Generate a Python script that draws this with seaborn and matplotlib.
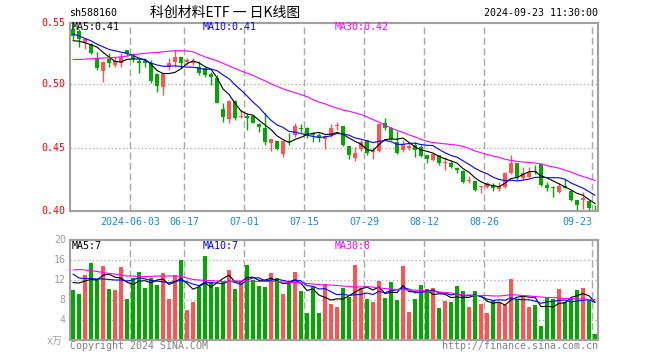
import numpy as np
import pandas as pd
import matplotlib
matplotlib.use("Agg")
import matplotlib.pyplot as plt
import seaborn as sns

# daily candles, 2024-05-20 .. 2024-09-23 (index 0..87)
opens = [0.5430, 0.5419, 0.5333, 0.5315, 0.5208, 0.5106, 0.5195, 0.5151, 0.5169, 0.5268,
         0.5234, 0.5184, 0.5184, 0.5164, 0.5078, 0.4981, 0.5138, 0.5177, 0.5216, 0.5177,
         0.5164, 0.5138, 0.5132, 0.5078, 0.5047, 0.4805, 0.4727, 0.4870, 0.4745, 0.4755,
         0.4755, 0.4690, 0.4656, 0.4539, 0.4557, 0.4455, 0.4560, 0.4604, 0.4658, 0.4661,
         0.4622, 0.4604, 0.4570, 0.4604, 0.4672, 0.4674, 0.4518, 0.4422, 0.4492, 0.4565,
         0.4474, 0.4481, 0.4700, 0.4656, 0.4552, 0.4487, 0.4500, 0.4526, 0.4508, 0.4448,
         0.4409, 0.4448, 0.4383, 0.4388, 0.4348, 0.4323, 0.4243, 0.4245, 0.4198, 0.4200,
         0.4213, 0.4180, 0.4200, 0.4305, 0.4388, 0.4266, 0.4278, 0.4319, 0.4375, 0.4213,
         0.4194, 0.4161, 0.4205, 0.4166, 0.4096, 0.4096, 0.4088, 0.4040]
highs = [0.5480, 0.5430, 0.5352, 0.5320, 0.5255, 0.5180, 0.5242, 0.5216, 0.5242, 0.5268,
         0.5242, 0.5203, 0.5195, 0.5190, 0.5086, 0.5086, 0.5203, 0.5268, 0.5216, 0.5203,
         0.5203, 0.5184, 0.5138, 0.5100, 0.5073, 0.4852, 0.4877, 0.4877, 0.4799, 0.4773,
         0.4760, 0.4700, 0.4773, 0.4573, 0.4560, 0.4565, 0.4622, 0.4700, 0.4690, 0.4669,
         0.4630, 0.4617, 0.4604, 0.4690, 0.4708, 0.4674, 0.4518, 0.4508, 0.4565, 0.4565,
         0.4508, 0.4700, 0.4734, 0.4669, 0.4638, 0.4565, 0.4552, 0.4552, 0.4526, 0.4448,
         0.4466, 0.4448, 0.4434, 0.4409, 0.4356, 0.4330, 0.4284, 0.4245, 0.4205, 0.4239,
         0.4231, 0.4239, 0.4317, 0.4448, 0.4388, 0.4352, 0.4352, 0.4370, 0.4388, 0.4239,
         0.4205, 0.4227, 0.4260, 0.4169, 0.4096, 0.4161, 0.4096, 0.4057]
lows = [0.5350, 0.5289, 0.5273, 0.5235, 0.5112, 0.5020, 0.5138, 0.5138, 0.5138, 0.5221,
        0.5177, 0.5086, 0.5138, 0.5008, 0.4942, 0.4916, 0.5112, 0.5138, 0.5125, 0.5151,
        0.5151, 0.5073, 0.5060, 0.4995, 0.4852, 0.4708, 0.4695, 0.4721, 0.4740, 0.4643,
        0.4695, 0.4630, 0.4526, 0.4481, 0.4487, 0.4434, 0.4526, 0.4591, 0.4630, 0.4578,
        0.4552, 0.4552, 0.4492, 0.4591, 0.4643, 0.4520, 0.4417, 0.4403, 0.4481, 0.4448,
        0.4414, 0.4474, 0.4643, 0.4565, 0.4455, 0.4474, 0.4487, 0.4434, 0.4434, 0.4383,
        0.4403, 0.4370, 0.4330, 0.4344, 0.4309, 0.4231, 0.4227, 0.4166, 0.4153, 0.4188,
        0.4169, 0.4169, 0.4188, 0.4299, 0.4253, 0.4253, 0.4266, 0.4299, 0.4208, 0.4166,
        0.4117, 0.4153, 0.4188, 0.4091, 0.4013, 0.4023, 0.4013, 0.4018]
closes = [0.5380, 0.5354, 0.5352, 0.5242, 0.5130, 0.5177, 0.5169, 0.5182, 0.5216, 0.5234,
          0.5195, 0.5164, 0.5170, 0.5026, 0.4987, 0.5078, 0.5164, 0.5216, 0.5164, 0.5190,
          0.5184, 0.5086, 0.5073, 0.5060, 0.4856, 0.4747, 0.4870, 0.4734, 0.4752, 0.4740,
          0.4700, 0.4670, 0.4552, 0.4573, 0.4492, 0.4557, 0.4552, 0.4674, 0.4654, 0.4604,
          0.4604, 0.4586, 0.4596, 0.4661, 0.4676, 0.4526, 0.4448, 0.4461, 0.4552, 0.4466,
          0.4479, 0.4690, 0.4656, 0.4570, 0.4461, 0.4526, 0.4518, 0.4487, 0.4440, 0.4414,
          0.4455, 0.4388, 0.4395, 0.4356, 0.4330, 0.4239, 0.4247, 0.4174, 0.4202, 0.4231,
          0.4188, 0.4205, 0.4309, 0.4388, 0.4266, 0.4309, 0.4317, 0.4315, 0.4213, 0.4192,
          0.4190, 0.4205, 0.4192, 0.4096, 0.4057, 0.4114, 0.4036, 0.4038]
# volume in 万
volumes = [10.0, 9.2, 13.0, 15.5, 12.3, 14.8, 10.2, 10.0, 14.6, 8.2,
           12.5, 13.6, 10.4, 12.5, 11.0, 13.4, 8.2, 13.0, 16.0, 6.0,
           7.6, 10.7, 16.8, 11.7, 10.6, 11.7, 14.0, 10.2, 11.6, 15.0,
           12.0, 10.8, 10.6, 13.4, 12.4, 9.2, 11.5, 13.6, 9.8, 5.4,
           10.7, 5.4, 11.3, 7.2, 6.6, 10.4, 8.7, 15.0, 10.5, 8.2,
           7.6, 11.8, 8.4, 11.6, 8.0, 14.8, 5.6, 8.2, 11.0, 10.2,
           10.4, 6.4, 7.8, 7.6, 10.8, 9.8, 6.6, 9.8, 7.2, 5.4,
           7.8, 7.6, 7.0, 12.2, 8.2, 8.8, 6.6, 7.0, 2.8, 8.4,
           8.2, 10.2, 7.6, 8.2, 10.0, 10.4, 8.0, 1.2]

# moving averages: first values (need earlier history)
price_ma5_head = [0.5341, 0.5338, 0.5325, 0.5310]
price_ma10_head = [0.5393, 0.5380, 0.5359, 0.5341, 0.5315, 0.5294, 0.5273, 0.5263, 0.5252]
price_ma30 = [0.5195, 0.5195, 0.5197, 0.5200, 0.5203, 0.5206, 0.5208, 0.5211, 0.5215, 0.5222,
              0.5230, 0.5238, 0.5243, 0.5247, 0.5250, 0.5255, 0.5260, 0.5263, 0.5263, 0.5262,
              0.5255, 0.5235, 0.5215, 0.5200, 0.5185, 0.5165, 0.5145, 0.5125, 0.5105, 0.5088,
              0.5070, 0.5048, 0.5028, 0.5005, 0.4985, 0.4965, 0.4950, 0.4935, 0.4920, 0.4905,
              0.4880, 0.4862, 0.4848, 0.4830, 0.4815, 0.4800, 0.4790, 0.4778, 0.4765, 0.4745,
              0.4725, 0.4705, 0.4680, 0.4660, 0.4640, 0.4625, 0.4605, 0.4590, 0.4570, 0.4555,
              0.4545, 0.4540, 0.4535, 0.4530, 0.4525, 0.4515, 0.4500, 0.4480, 0.4465, 0.4452,
              0.4440, 0.4430, 0.4415, 0.4405, 0.4398, 0.4393, 0.4390, 0.4385, 0.4378, 0.4365,
              0.4355, 0.4345, 0.4330, 0.4315, 0.4295, 0.4280, 0.4265, 0.4248]
vol_ma5_head = [11.5, 11.4, 11.8, 12.1]
vol_ma10_head = [13.2, 12.4, 12.3, 12.3, 12.2, 12.2, 12.1, 12.0, 12.0]
vol_ma30 = [14.0, 14.1, 14.0, 13.9, 13.7, 13.5, 13.3, 13.2, 13.0, 12.8,
            12.8, 12.7, 12.7, 12.7, 12.8, 12.8, 12.8, 12.8, 12.7, 12.4,
            12.1, 12.0, 11.9, 11.9, 11.8, 11.7, 11.7, 11.8, 11.8, 11.8,
            11.7, 11.7, 11.7, 11.7, 11.7, 11.6, 11.5, 11.5, 11.4, 11.3,
            11.2, 11.1, 11.0, 11.0, 10.9, 10.8, 10.7, 10.6, 10.6, 10.7,
            10.6, 10.4, 10.3, 10.2, 10.1, 10.1, 10.0, 10.0, 9.9, 9.8,
            9.7, 9.6, 9.5, 9.4, 9.2, 9.0, 9.0, 8.9, 8.9, 8.9,
            8.8, 8.8, 8.9, 9.1, 9.0, 8.9, 8.8, 8.7, 8.6, 8.5,
            8.5, 8.4, 8.3, 8.3, 8.2, 8.2, 8.1, 8.1]

date_idx = [10, 19, 29, 39, 49, 59, 69, 87]
date_labels = ["2024-06-03", "06-17", "07-01", "07-15", "07-29", "08-12", "08-26", "09-23"]

RED = "#ff5353"
GREEN = "#00a800"
GRID = "#a8a8a8"
FRAME = "#a0a0a0"

df = pd.DataFrame({"open": opens, "high": highs, "low": lows, "close": closes, "vol": volumes})
df["x"] = np.arange(len(df))
df["up"] = df["close"] >= df["open"]


def with_head(series, n, head):
    ma = series.rolling(n).mean()
    ma.iloc[:len(head)] = head
    return ma


df["ma5"] = with_head(df["close"], 5, price_ma5_head)
df["ma10"] = with_head(df["close"], 10, price_ma10_head)
df["ma30"] = price_ma30
df["vma5"] = with_head(df["vol"], 5, vol_ma5_head)
df["vma10"] = with_head(df["vol"], 10, vol_ma10_head)
df["vma30"] = vol_ma30

sns.set_style("white")
plt.rcParams["font.family"] = ["DejaVu Sans Mono", "Noto Sans CJK SC"]

fig = plt.figure(figsize=(6.6, 3.6), dpi=100)
W, H = 660, 360
ax = fig.add_axes([70 / W, 1 - 211 / H, 528 / W, 188 / H])
axv = fig.add_axes([70 / W, 1 - 340 / H, 528 / W, 100 / H])

colors = np.where(df["up"], RED, GREEN)
LW = 0.8

# candles
body_lo = np.minimum(df["open"], df["close"])
body_h = np.maximum(np.abs(df["close"] - df["open"]), 0.0007)
ax.vlines(df["x"], df["low"], df["high"], colors=colors, linewidth=1, zorder=2)
ax.bar(df["x"], body_h, bottom=body_lo, width=0.83, color=colors, linewidth=0, zorder=3)

sns.lineplot(x=df["x"], y=df["ma5"], ax=ax, color="black", linewidth=LW, zorder=4)
sns.lineplot(x=df["x"], y=df["ma10"], ax=ax, color="#0000ff", linewidth=LW, zorder=4)
sns.lineplot(x=df["x"], y=df["ma30"], ax=ax, color="#ff00ff", linewidth=LW, zorder=4)

# volume
axv.bar(df["x"], df["vol"], width=0.83, color=colors, linewidth=0, zorder=2)
sns.lineplot(x=df["x"], y=df["vma5"], ax=axv, color="black", linewidth=LW, zorder=4)
sns.lineplot(x=df["x"], y=df["vma10"], ax=axv, color="#0000ff", linewidth=LW, zorder=4)
sns.lineplot(x=df["x"], y=df["vma30"], ax=axv, color="#ff00ff", linewidth=LW, zorder=4)

for a in (ax, axv):
    a.set_xlim(-0.5, len(df) - 0.5)
    a.set_xlabel("")
    a.set_ylabel("")
    a.set_xticks([])
    a.set_yticks([])
    for s in a.spines.values():
        s.set_color(FRAME)
        s.set_linewidth(1.5)
    for i in date_idx:
        a.axvline(i - 0.5, color=GRID, linestyle=(0, (5, 2.5)), linewidth=1, zorder=1)

ax.set_ylim(0.401, 0.548)
for p in [0.45, 0.50]:
    ax.axhline(p, color=GRID, linestyle=(0, (1, 2)), linewidth=0.9, zorder=1)
axv.set_ylim(0, 20)
for v in [4, 8, 12, 16]:
    axv.axhline(v, color=GRID, linestyle=(0, (1, 2)), linewidth=0.9, zorder=1)

fs = 7.2
# price axis labels
for p, lab in [(0.401, "0.40"), (0.45, "0.45"), (0.50, "0.50"), (0.548, "0.55")]:
    ax.text(-0.008, p, lab, transform=ax.get_yaxis_transform(), ha="right", va="center",
            color="#ff0000", fontsize=fs)
for v in [4, 8, 12, 16, 20]:
    axv.text(-0.008, v, str(v), transform=axv.get_yaxis_transform(), ha="right", va="center",
             color="#a0a0a0", fontsize=fs)
fig.text(63 / W, 1 - 341 / H, "x万", ha="right", va="center", color="#a0a0a0", fontsize=fs)

# date labels
for i, lab in zip(date_idx, date_labels):
    ha = "right" if i == date_idx[-1] else "center"
    ax.text(i - 0.5, -0.057, lab, transform=ax.get_xaxis_transform(), ha=ha, va="center",
            color="#1a8ad4", fontsize=fs)

# legends
leg_x = [72 / W, 203 / W, 335 / W]
leg_c = ["black", "#0000ff", "#ff00ff"]
price_leg = [f"MA5:{df['ma5'].iloc[-1]:.2f}", f"MA10:{df['ma10'].iloc[-1]:.2f}",
             f"MA30:{df['ma30'].iloc[-1]:.2f}"]
vol_leg = [f"MA5:{int(df['vma5'].iloc[-1])}", f"MA10:{int(df['vma10'].iloc[-1])}",
           f"MA30:{int(df['vma30'].iloc[-1])}"]
for x, c, t in zip(leg_x, leg_c, price_leg):
    fig.text(x, 1 - 27 / H, t, color=c, fontsize=fs, va="center", ha="left")
for x, c, t in zip(leg_x, leg_c, vol_leg):
    fig.text(x, 1 - 246 / H, t, color=c, fontsize=fs, va="center", ha="left")

# header / footer
fig.text(69 / W, 1 - 13 / H, "sh588160", fontsize=fs, va="center", ha="left", color="black")
fig.text(150 / W, 1 - 13 / H, "科创材料ETF 一 日K线图", fontsize=10, va="center", ha="left",
         color="black", family=["Noto Sans CJK SC", "DejaVu Sans"])
fig.text(598 / W, 1 - 13 / H, "2024-09-23 11:30:00", fontsize=fs, va="center", ha="right",
         color="black")
fig.text(70 / W, 1 - 346 / H, "Copyright 2024 SINA.COM", fontsize=fs, va="center", ha="left",
         color="#808080")
fig.text(598 / W, 1 - 346 / H, "http://finance.sina.com.cn", fontsize=fs, va="center",
         ha="right", color="#808080")

fig.savefig("out.png", dpi=100)
